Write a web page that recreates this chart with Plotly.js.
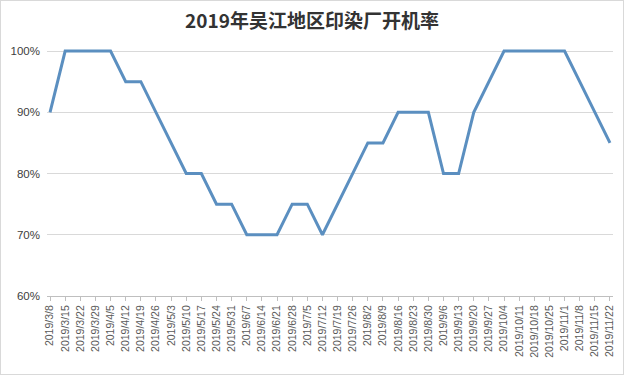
<!DOCTYPE html>
<html>
<head>
<meta charset="utf-8">
<script src="https://cdn.plot.ly/plotly-3.0.1.min.js"></script>
<style>
html,body{margin:0;padding:0;background:#fff;}
#chart{width:624px;height:375px;box-sizing:border-box;border:1px solid #d9d9d9;}
</style>
</head>
<body>
<div id="chart"></div>
<script>
const dates = ["2019/3/8","2019/3/15","2019/3/22","2019/3/29","2019/4/5","2019/4/12","2019/4/19","2019/4/26","2019/5/3","2019/5/10","2019/5/17","2019/5/24","2019/5/31","2019/6/7","2019/6/14","2019/6/21","2019/6/28","2019/7/5","2019/7/12","2019/7/19","2019/7/26","2019/8/2","2019/8/9","2019/8/16","2019/8/23","2019/8/30","2019/9/6","2019/9/13","2019/9/20","2019/9/27","2019/10/4","2019/10/11","2019/10/18","2019/10/25","2019/11/1","2019/11/8","2019/11/15","2019/11/22"];
const rates = [90,100,100,100,100,95,95,90,85,80,80,75,75,70,70,70,75,75,70,75,80,85,85,90,90,90,80,80,90,95,100,100,100,100,100,95,90,85];
const yTicks = [60,70,80,90,100];
const yTickLabels = ["60%","70%","80%","90%","100%"];

const trace = {
  x: dates, y: rates, type: 'scatter', mode: 'lines',
  line: {color: '#5b8fc0', width: 3},
  hoverinfo: 'x+y'
};
const layout = {
  width: 622, height: 373,
  margin: {l: 46, r: 10, t: 47, b: 78, pad: 0},
  paper_bgcolor: '#ffffff', plot_bgcolor: '#ffffff',
  showlegend: false,
  title: {text: '2019年吴江地区印染厂开机率', x: 0.5, xanchor: 'center', y: 0.945, yanchor: 'middle',
    font: {family: '"Noto Sans CJK SC", "Noto Sans", sans-serif', size: 19, color: '#333333', weight: 'bold'}},
  xaxis: {
    type: 'category', range: [-0.2, 37.2], autorange: false,
    tickangle: -90, tickfont: {family: '"Liberation Sans", Arial, sans-serif', size: 10.5, color: '#595959'},
    showgrid: false, showline: true, linecolor: '#bfbfbf', linewidth: 1,
    ticks: 'outside', ticklen: 4, tickcolor: '#bfbfbf', zeroline: false
  },
  yaxis: {
    range: [60, 100.5], autorange: false, tickmode: 'array', tickvals: yTicks, ticktext: yTickLabels,
    tickfont: {family: '"Liberation Sans", Arial, sans-serif', size: 11.5, color: '#404040'},
    showgrid: true, gridcolor: '#d9d9d9', gridwidth: 1, showline: false, zeroline: false,
    ticks: '', ticklabelstandoff: 6
  }
};
Plotly.newPlot('chart', [trace], layout, {displayModeBar: false, staticPlot: true});
</script>
</body>
</html>
